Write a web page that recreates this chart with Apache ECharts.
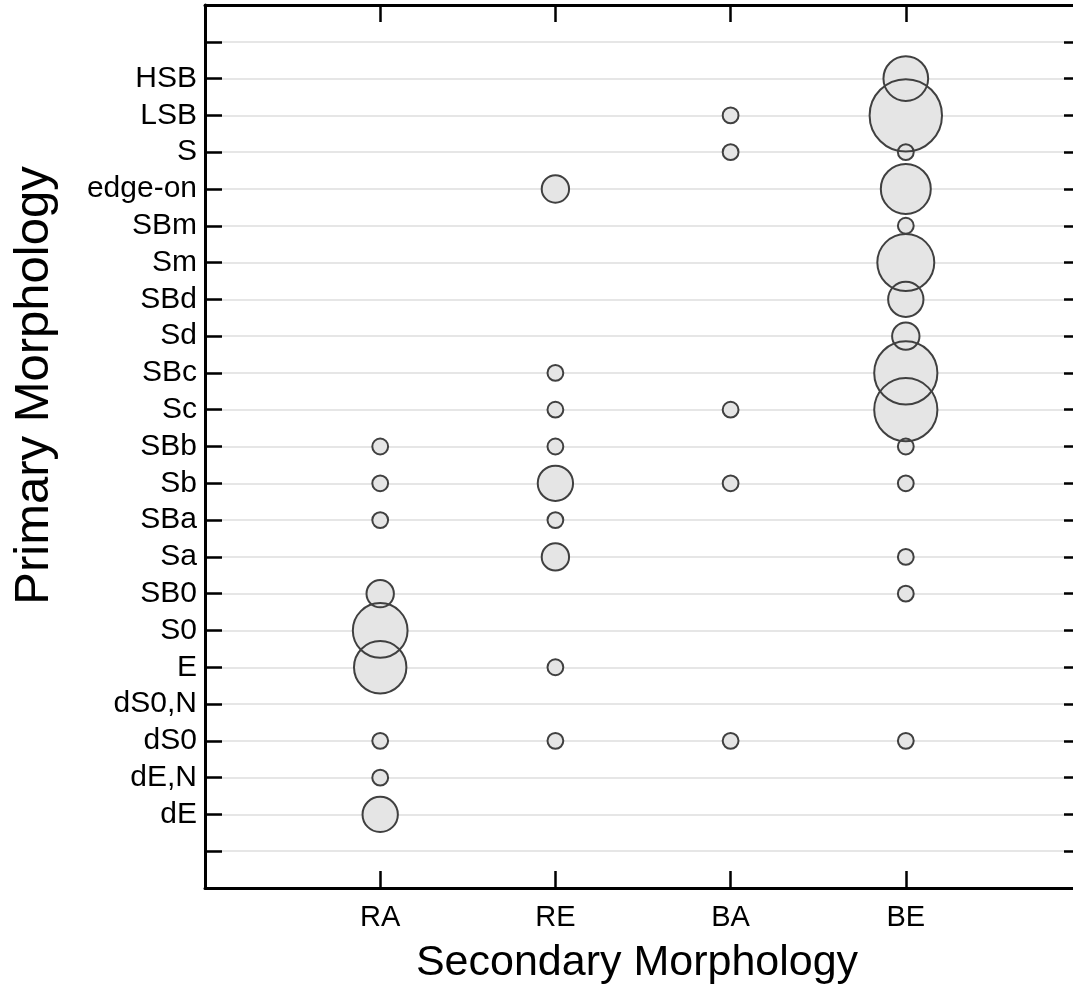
<!DOCTYPE html>
<html>
<head>
<meta charset="utf-8">
<script src="https://cdn.jsdelivr.net/npm/echarts@6/dist/echarts.min.js"></script>
<style>
  html, body { margin: 0; padding: 0; background: #ffffff; }
  #chart { width: 1073px; height: 987px; }
</style>
</head>
<body>
<div id="chart"></div>
<script>
// Secondary morphology classes (x axis, positions 1..4)
const secondaryClasses = ['RA', 'RE', 'BA', 'BE'];
// Primary morphology classes (y axis, positions 1..21, bottom to top)
const primaryClasses = ['dE', 'dE,N', 'dS0', 'dS0,N', 'E', 'S0', 'SB0', 'Sa', 'SBa', 'Sb',
  'SBb', 'Sc', 'SBc', 'Sd', 'SBd', 'Sm', 'SBm', 'edge-on', 'S', 'LSB', 'HSB'];

// Number of galaxies per primary class, one array per secondary class
const countsRA = [5, 1, 1, 0, 11, 12, 3, 0, 1, 1, 1, 0, 0, 0, 0, 0, 0, 0, 0, 0, 0];
const countsRE = [0, 0, 1, 0, 1, 0, 0, 3, 1, 5, 1, 1, 1, 0, 0, 0, 0, 3, 0, 0, 0];
const countsBA = [0, 0, 1, 0, 0, 0, 0, 0, 0, 1, 0, 1, 0, 0, 0, 0, 0, 0, 1, 1, 0];
const countsBE = [0, 0, 1, 0, 0, 0, 1, 1, 0, 1, 1, 16, 16, 3, 5, 13, 1, 10, 1, 21, 8];

const countsByColumn = [countsRA, countsRE, countsBA, countsBE];

// bubble points: [x position, y position, count]
const points = [];
countsByColumn.forEach((col, ci) => {
  col.forEach((n, ri) => {
    if (n > 0) points.push([ci + 1, ri + 1, n]);
  });
});

// bubble diameter grows with the square root of the count (area ~ count)
const bubbleSize = v => 15.8 * Math.sqrt(v[2]);

const FONT = '"Liberation Sans", Arial, Helvetica, sans-serif';
const AXIS_COLOR = '#000000';

const xLabel = v => (v >= 1 && v <= secondaryClasses.length) ? secondaryClasses[v - 1] : '';
const yLabel = v => (v >= 1 && v <= primaryClasses.length) ? primaryClasses[v - 1] : '';

const baseX = {
  type: 'value', min: 0, max: 5, interval: 1,
  axisLine: { show: true, onZero: false, lineStyle: { color: AXIS_COLOR, width: 3 } },
  axisTick: { show: true, inside: true, length: 17, lineStyle: { color: AXIS_COLOR, width: 2.5 } },
  splitLine: { show: false }
};
const baseY = {
  type: 'value', min: -1, max: 23, interval: 1,
  axisLine: { show: true, onZero: false, lineStyle: { color: AXIS_COLOR, width: 3 } },
  axisTick: { show: true, inside: true, length: 17, lineStyle: { color: AXIS_COLOR, width: 2.5 } }
};

const chart = echarts.init(document.getElementById('chart'), null, { renderer: 'canvas' });
chart.setOption({
  animation: false,
  backgroundColor: '#ffffff',
  // the plot frame runs a little past the right edge of the canvas
  grid: { left: 205, width: 876, top: 5, height: 883, containLabel: false, outerBoundsMode: 'none' },
  xAxis: [
    Object.assign({}, baseX, {
      position: 'bottom',
      name: 'Secondary Morphology',
      nameLocation: 'middle',
      nameGap: 54,
      nameTextStyle: { fontFamily: FONT, fontSize: 43, color: '#000', padding: [0, 12, 0, 0] },
      axisLabel: { formatter: xLabel, margin: 15, fontFamily: FONT, fontSize: 29, color: '#000' }
    }),
    Object.assign({}, baseX, { position: 'top', axisLabel: { show: false } })
  ],
  yAxis: [
    Object.assign({}, baseY, {
      position: 'left',
      name: 'Primary Morphology',
      nameLocation: 'middle',
      nameGap: 146,
      nameTextStyle: { fontFamily: FONT, fontSize: 49, color: '#000', padding: [0, 0, 0, 122] },
      axisLabel: { formatter: yLabel, margin: 8, fontFamily: FONT, fontSize: 30, color: '#000' },
      splitLine: { show: true, lineStyle: { color: '#e6e6e6', width: 2 } }
    }),
    Object.assign({}, baseY, { position: 'right', axisLabel: { show: false }, splitLine: { show: false } })
  ],
  series: [
    {
      // bubble fills
      type: 'scatter', data: points, symbol: 'circle', symbolSize: bubbleSize,
      silent: true, z: 2,
      itemStyle: { color: '#e5e5e5', borderWidth: 0, opacity: 1 }
    },
    {
      // bubble outlines drawn above every fill
      type: 'scatter', data: points, symbol: 'circle', symbolSize: bubbleSize,
      silent: true, z: 3,
      itemStyle: { color: 'rgba(0,0,0,0)', borderColor: '#404040', borderWidth: 2, opacity: 1 }
    }
  ]
});
</script>
</body>
</html>
